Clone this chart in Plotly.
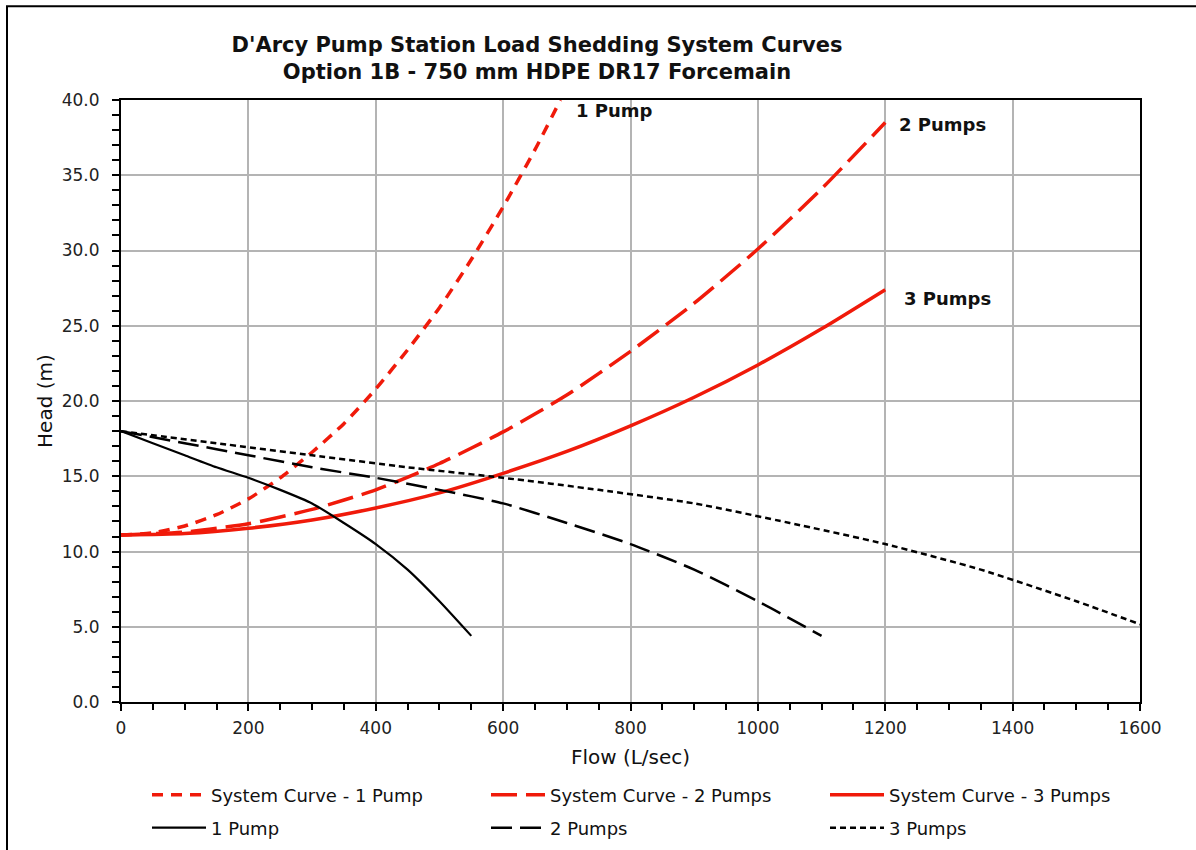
import plotly.graph_objects as go

# ---------------- data ----------------
sys1_flow = [0, 50, 100, 150, 200, 250, 300, 350, 400, 450, 500, 550, 600, 650, 690]
sys1_head = [11.1, 11.25, 11.7, 12.45, 13.5, 14.9, 16.6, 18.5, 20.8, 23.4, 26.2, 29.4, 32.9, 36.7, 40.0]

sys2_flow = [0, 100, 200, 300, 400, 500, 600, 700, 800, 900, 1000, 1100, 1200]
sys2_head = [11.1, 11.3, 11.85, 12.8, 14.1, 15.85, 17.95, 20.4, 23.3, 26.5, 30.1, 34.1, 38.5]

sys3_flow = [0, 100, 200, 300, 400, 500, 600, 700, 800, 900, 1000, 1100, 1200]
sys3_head = [11.1, 11.2, 11.55, 12.1, 12.9, 13.9, 15.2, 16.65, 18.35, 20.25, 22.4, 24.8, 27.4]

pump1_flow = [0, 50, 100, 150, 200, 250, 300, 350, 400, 450, 500, 550]
pump1_head = [18.0, 17.2, 16.4, 15.6, 14.9, 14.1, 13.2, 11.9, 10.5, 8.8, 6.7, 4.4]

pump2_flow = [0, 100, 200, 300, 400, 500, 600, 700, 800, 900, 1000, 1100]
pump2_head = [18.0, 17.2, 16.4, 15.6, 14.9, 14.1, 13.2, 11.9, 10.5, 8.8, 6.7, 4.4]

pump3_flow = [0, 150, 300, 450, 600, 750, 900, 1050, 1200, 1350, 1500, 1650]
pump3_head = [18.0, 17.2, 16.4, 15.6, 14.9, 14.1, 13.2, 11.9, 10.5, 8.8, 6.7, 4.4]

series_names = ["System Curve - 1 Pump", "System Curve - 2 Pumps", "System Curve - 3 Pumps",
                "1 Pump", "2 Pumps", "3 Pumps"]

curve_labels = ["1 Pump", "2 Pumps", "3 Pumps"]
label_flow = [712, 1218, 1226]
label_head = [39.3, 38.4, 26.8]

x_ticks = [0, 200, 400, 600, 800, 1000, 1200, 1400, 1600]
y_ticks = [0, 5, 10, 15, 20, 25, 30, 35, 40]

RED = "#f01a0a"
BLACK = "#000000"
FONT = "DejaVu Sans"

fig = go.Figure()

styles = [
    (sys1_flow, sys1_head, RED, 3.5, "11px,8px", "legend"),
    (sys2_flow, sys2_head, RED, 3.5, "26px,9px", "legend"),
    (sys3_flow, sys3_head, RED, 3.5, "solid", "legend"),
    (pump1_flow, pump1_head, BLACK, 2.2, "solid", "legend2"),
    (pump2_flow, pump2_head, BLACK, 2.5, "21px,8px", "legend2"),
    (pump3_flow, pump3_head, BLACK, 2.5, "6px,4px", "legend2"),
]

for (xs, ys, col, w, dash, leg), name in zip(styles, series_names):
    fig.add_trace(go.Scatter(
        x=xs, y=ys, mode="lines", name=name,
        line=dict(color=col, width=w, dash=dash, shape="spline", smoothing=0.6),
        legend=leg,
    ))

for t, fx, hy in zip(curve_labels, label_flow, label_head):
    fig.add_annotation(x=fx, y=hy, text="<b>%s</b>" % t, showarrow=False,
                       xanchor="left", yanchor="middle",
                       font=dict(family=FONT, size=18, color="#111111"))

axis_common = dict(
    showline=True, linecolor="black", linewidth=2, mirror=True,
    showgrid=True, gridcolor="#b4b4b4", gridwidth=1.5,
    ticks="outside", ticklen=7, tickwidth=2, tickcolor="black",
    tickfont=dict(family=FONT, size=17, color="#222222"),
    zeroline=False,
)

fig.update_xaxes(
    range=[0, 1600], tickvals=x_ticks, ticklabelstandoff=3,
    minor=dict(dtick=50, ticks="outside", ticklen=6, tickwidth=1.5, tickcolor="black", showgrid=False),
    title=dict(text="Flow (L/sec)", font=dict(family=FONT, size=20, color="#111111"), standoff=12),
    **axis_common,
)
fig.update_yaxes(
    range=[0, 40], tickvals=y_ticks, tickformat=".1f", ticklabelstandoff=9,
    minor=dict(dtick=1, ticks="outside", ticklen=7, tickwidth=1.5, tickcolor="black", showgrid=False),
    title=dict(text="Head (m)", font=dict(family=FONT, size=20, color="#111111"), standoff=4),
    **axis_common,
)

legend_common = dict(
    orientation="h", xanchor="left", yanchor="middle",
    xref="container", yref="container",
    entrywidth=270, entrywidthmode="pixels", itemwidth=54,
    font=dict(family=FONT, size=18, color="#111111"),
    bgcolor="rgba(0,0,0,0)", tracegroupgap=0,
)

fig.update_layout(
    width=1196, height=850,
    margin=dict(l=121, r=56, t=100, b=146),
    paper_bgcolor="white", plot_bgcolor="white",
    title=dict(
        text="<b>D'Arcy Pump Station Load Shedding System Curves<br>Option 1B - 750 mm HDPE DR17 Forcemain</b>",
        x=537 / 1196, xanchor="center", y=1 - 52 / 850, yanchor="middle",
        font=dict(family=FONT, size=21, color="#111111"),
    ),
    legend=dict(x=147 / 1196, y=1 - 795 / 850, **legend_common),
    legend2=dict(x=147 / 1196, y=1 - 828 / 850, **legend_common),
    showlegend=True,
)

# outer frame of the chart
fig.add_shape(type="rect", xref="paper", yref="paper",
              x0=(7 - 121) / 1019, x1=(1210 - 121) / 1019,
              y0=(704 - 870) / 604, y1=(704 - 6) / 604,
              line=dict(color="black", width=2), layer="below")

fig.write_html("out.html")
